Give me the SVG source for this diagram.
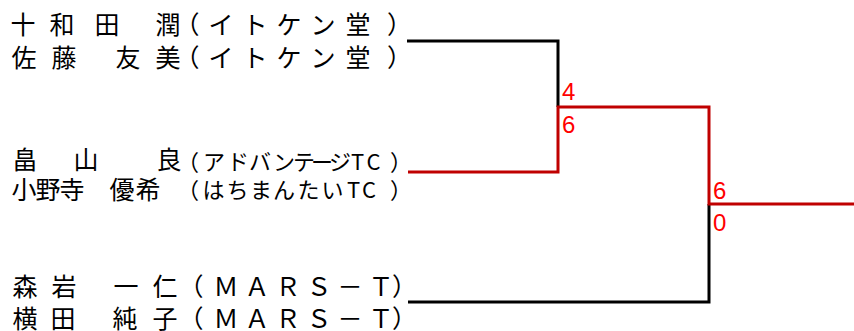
<svg xmlns="http://www.w3.org/2000/svg" width="854" height="331" viewBox="0 0 854 331">
<style>
.nm{font-family:"Noto Sans CJK JP","Noto Sans CJK SC",sans-serif;font-size:25px;fill:#000}
.sm{font-family:"Noto Sans CJK JP","Noto Sans CJK SC",sans-serif;font-size:22px;fill:#000}
.sc{font-family:"Liberation Sans",Arial,sans-serif;font-size:24px;fill:#ff0000}
.bk{fill:none;stroke:#000;stroke-width:3}
.rd{fill:none;stroke:#c00000;stroke-width:3}
</style>
<rect width="854" height="331" fill="#fff"/>
<g id="connectors">
<path class="bk" d="M407,41 H558 V107"/>
<path class="bk" d="M408,302 H709 V204"/>
<path class="rd" d="M408,172 H558 V107 H709 V204 H854"/>
</g>
<g id="entry1">
<text class="nm" x="10.5 49.5 94.5 130 155.5 174.5 208.5 242.5 276.5 310.5 345.5 387" y="34">十和田　潤（イトケン堂）</text>
<text class="nm" x="11.5 51.5 90 115.5 155.5 174.5 208.5 242.5 276.5 310.5 345.5 387" y="67">佐藤　友美（イトケン堂）</text>
</g>
<g id="entry2">
<text class="nm" x="12.5 45 73.5 110 156.5" y="169">畠　山　良</text>
<text class="sm" x="177 203 227 249 273 293 311 329 351 366.5 390" y="170">（アドバンテージTC）</text>
<text class="nm" x="11.5 35.5 59.5 84 109.5 135.5" y="199">小野寺　優希</text>
<text class="sm" x="177 202.5 226.5 250 273 297.5 321.5 347 362 390" y="198">（はちまんたいTC）</text>
</g>
<g id="entry3">
<text class="nm" x="12.5 51.5 85 113.5 152.5 178.5 213.5 244.5 275.5 306.5 337.5 368.5 392" y="296">森岩　一仁（ＭＡＲＳ－Ｔ）</text>
<text class="nm" x="12.5 50.5 85 112.5 152.5 178.5 213.5 244.5 275.5 306.5 337.5 368.5 392" y="328">横田　純子（ＭＡＲＳ－Ｔ）</text>
</g>
<g id="score1">
<text class="sc" x="562" y="100">4</text>
<text class="sc" x="562" y="133">6</text>
</g>
<g id="score2">
<text class="sc" x="713" y="199">6</text>
<text class="sc" x="713" y="231">0</text>
</g>
</svg>
